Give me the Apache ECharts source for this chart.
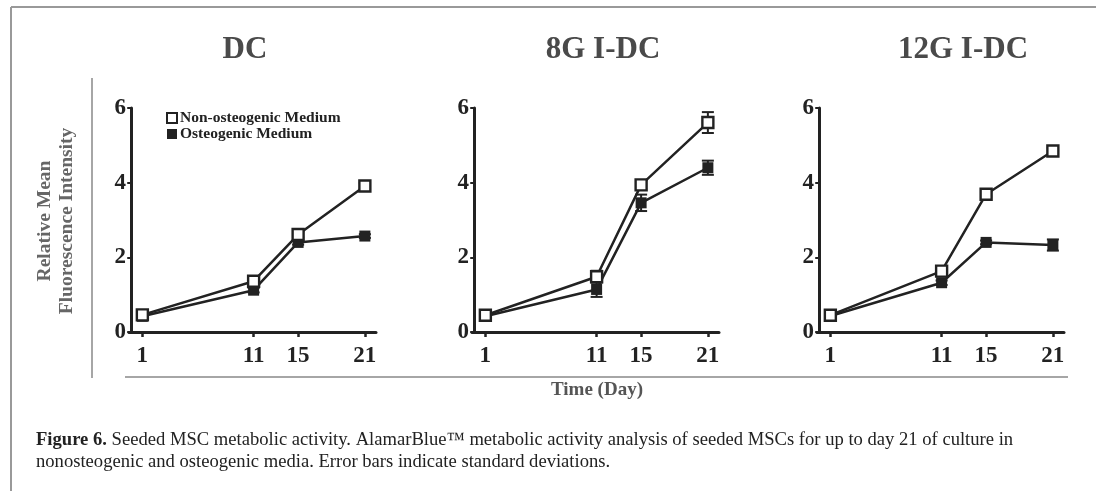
<!DOCTYPE html>
<html>
<head>
<meta charset="utf-8">
<script src="https://cdn.jsdelivr.net/npm/echarts@6/dist/echarts.min.js"></script>
<style>
html,body{margin:0;padding:0;background:#fff;}
#chart{width:1096px;height:491px;}
</style>
</head>
<body>
<div id="chart"></div>
<script>
// ---- data ----
const days = [1, 11, 15, 21];
const panelTitles = ['DC', '8G I-DC', '12G I-DC'];
const seriesNames = ['Non-osteogenic Medium', 'Osteogenic Medium'];
const yTicks = [0, 2, 4, 6];
// non-osteogenic / osteogenic means per panel
const dcNon = [0.46, 1.36, 2.61, 3.91];
const dcOst = [0.42, 1.12, 2.40, 2.57];
const g8Non = [0.45, 1.48, 3.94, 5.61];
const g8Ost = [0.42, 1.14, 3.46, 4.40];
const g12Non = [0.45, 1.63, 3.69, 4.85];
const g12Ost = [0.43, 1.32, 2.40, 2.33];
// standard deviations
const dcNonErr = [0.05, 0.08, 0.08, 0.08];
const dcOstErr = [0.05, 0.06, 0.06, 0.05];
const g8NonErr = [0.05, 0.16, 0.12, 0.28];
const g8OstErr = [0.05, 0.20, 0.22, 0.19];
const g12NonErr = [0.05, 0.08, 0.06, 0.08];
const g12OstErr = [0.05, 0.06, 0.05, 0.15];
const caption1Bold = 'Figure 6.';
const caption1 = ' Seeded MSC metabolic activity. AlamarBlue\u2122 metabolic activity analysis of seeded MSCs for up to day 21 of culture in';
const caption2 = 'nonosteogenic and osteogenic media. Error bars indicate standard deviations.';
const yAxisName = ['Relative Mean', 'Fluorescence Intensity'];
const xAxisName = 'Time (Day)';

const panels = [
  {non: dcNon, ost: dcOst, nonErr: dcNonErr, ostErr: dcOstErr},
  {non: g8Non, ost: g8Ost, nonErr: g8NonErr, ostErr: g8OstErr},
  {non: g12Non, ost: g12Ost, nonErr: g12NonErr, ostErr: g12OstErr}
];

const SERIF = '"Liberation Serif","Times New Roman",serif';
const INK = '#222';
const gridLefts = [129, 472, 817];
const titleCenters = [240, 598, 958];

const grids = [], xAxes = [], yAxes = [], series = [], titles = [];
gridLefts.forEach((l, i) => {
  grids.push({left: l, top: 108, width: 247, height: 224});
  xAxes.push({
    type: 'value', gridIndex: i, min: -0.2, max: 22,
    axisLine: {show: true, lineStyle: {color: INK, width: 3}},
    axisTick: {show: true, customValues: days, length: 5, lineStyle: {color: INK, width: 2.5}},
    axisLabel: {show: true, customValues: days, margin: 13, color: INK, fontFamily: SERIF, fontWeight: 'bold', fontSize: 23},
    splitLine: {show: false}
  });
  yAxes.push({
    type: 'value', gridIndex: i, min: 0, max: 6, interval: 2,
    axisLine: {show: true, lineStyle: {color: INK, width: 3}},
    axisTick: {show: true, length: 4, lineStyle: {color: INK, width: 2}},
    axisLabel: {show: true, margin: 3, color: INK, fontFamily: SERIF, fontWeight: 'bold', fontSize: 23},
    splitLine: {show: false}
  });
  titles.push({
    text: panelTitles[i], left: titleCenters[i], top: 29, textAlign: 'center',
    textStyle: {fontFamily: SERIF, fontWeight: 'bold', fontSize: 31, color: '#4a4a4a'}
  });
  const p = panels[i];
  const errSeries = (vals, errs) => ({
    type: 'custom', xAxisIndex: i, yAxisIndex: i, z: 1, silent: true,
    data: days.map((d, k) => [d, vals[k] - errs[k], vals[k] + errs[k]]),
    renderItem: function (params, api) {
      const x = api.value(0);
      const lo = api.coord([x, api.value(1)]);
      const hi = api.coord([x, api.value(2)]);
      const hw = 6;
      const st = {stroke: INK, lineWidth: 2};
      return {type: 'group', children: [
        {type: 'line', shape: {x1: lo[0], y1: lo[1], x2: hi[0], y2: hi[1]}, style: st},
        {type: 'line', shape: {x1: lo[0] - hw, y1: lo[1], x2: lo[0] + hw, y2: lo[1]}, style: st},
        {type: 'line', shape: {x1: hi[0] - hw, y1: hi[1], x2: hi[0] + hw, y2: hi[1]}, style: st}
      ]};
    }
  });
  series.push(errSeries(p.ost, p.ostErr));
  series.push(errSeries(p.non, p.nonErr));
  series.push({
    name: seriesNames[1], type: 'line', xAxisIndex: i, yAxisIndex: i, z: 3,
    data: days.map((d, k) => [d, p.ost[k]]),
    symbol: 'rect', symbolSize: 11, showAllSymbol: true,
    lineStyle: {color: INK, width: 2.5},
    itemStyle: {color: INK, borderColor: INK, borderWidth: 0}
  });
  series.push({
    name: seriesNames[0], type: 'line', xAxisIndex: i, yAxisIndex: i, z: 4,
    data: days.map((d, k) => [d, p.non[k]]),
    symbol: 'rect', symbolSize: 11, showAllSymbol: true,
    lineStyle: {color: INK, width: 2.5},
    itemStyle: {color: '#fff', borderColor: INK, borderWidth: 2.4}
  });
});

const option = {
  animation: false,
  backgroundColor: '#fff',
  title: titles,
  grid: grids,
  xAxis: xAxes,
  yAxis: yAxes,
  series: series,
  legend: {
    left: 164, top: 108, orient: 'vertical', itemWidth: 10, itemHeight: 10, itemGap: 0,
    selectedMode: false, padding: 2,
    textStyle: {fontFamily: SERIF, fontWeight: 'bold', fontSize: 15.5, lineHeight: 15, color: INK, padding: [0, 0, 0, -2]},
    data: [
      {name: seriesNames[0], icon: 'rect', itemStyle: {color: '#fff', borderColor: INK, borderWidth: 2}},
      {name: seriesNames[1], icon: 'rect', itemStyle: {color: INK, borderWidth: 0}}
    ]
  },
  graphic: [
    {type: 'line', shape: {x1: 11, y1: 7, x2: 1096, y2: 7}, style: {stroke: '#999', lineWidth: 2}},
    {type: 'line', shape: {x1: 11, y1: 7, x2: 11, y2: 491}, style: {stroke: '#999', lineWidth: 2}},
    {type: 'line', shape: {x1: 92, y1: 78, x2: 92, y2: 378}, style: {stroke: '#888', lineWidth: 1.5}},
    {type: 'line', shape: {x1: 125, y1: 377, x2: 1068, y2: 377}, style: {stroke: '#888', lineWidth: 1.5}},
    {type: 'text', x: 56, y: 221, rotation: Math.PI / 2,
      style: {text: yAxisName.join('\n'), fontFamily: SERIF, fontWeight: 'bold', fontSize: 19.5, lineHeight: 22,
        fill: '#666', align: 'center', verticalAlign: 'middle'}},
    {type: 'text', x: 597, y: 390,
      style: {text: xAxisName, fontFamily: SERIF, fontWeight: 'bold', fontSize: 19, fill: '#555', align: 'center', verticalAlign: 'middle'}},
    {type: 'text', x: 36, y: 440,
      style: {text: '{b|' + caption1Bold + '}' + caption1, fontFamily: SERIF, fontSize: 18.6, fill: INK, verticalAlign: 'middle',
        rich: {b: {fontFamily: SERIF, fontWeight: 'bold', fontSize: 18.6, fill: INK}}}},
    {type: 'text', x: 36, y: 462,
      style: {text: caption2, fontFamily: SERIF, fontSize: 18.6, fill: INK, verticalAlign: 'middle'}}
  ]
};
const chart = echarts.init(document.getElementById('chart'), null, {renderer: 'canvas'});
chart.setOption(option);
</script>
</body>
</html>
